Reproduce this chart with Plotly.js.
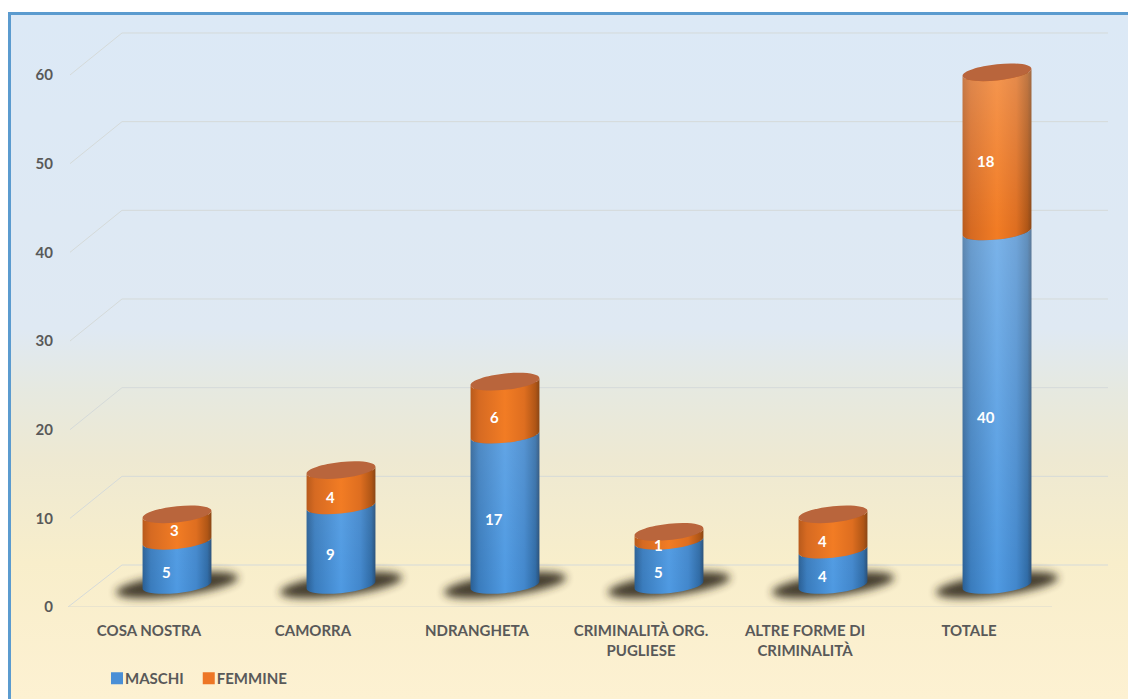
<!DOCTYPE html>
<html>
<head>
<meta charset="utf-8">
<script src="https://cdn.plot.ly/plotly-3.0.1.min.js"></script>
<style>
html,body{margin:0;padding:0;background:#fff;width:1128px;height:699px;overflow:hidden}
#frame{position:absolute;left:8px;top:12px;width:1120px;height:687px;box-sizing:border-box;border-left:3px solid #5b9bcf;border-top:3px solid #5b9bcf;
background:linear-gradient(to bottom,#dce9f6 0%,#dfe9f3 46%,#e6e9e0 55%,#eee9d2 65%,#f8eecb 80%,#fdf1d2 100%)}
#chart{position:absolute;left:0;top:0;width:1128px;height:699px}
</style>
</head>
<body>
<svg width="0" height="0" style="position:absolute">
<defs>
<linearGradient id="gBlue" x1="0" x2="1" y1="0" y2="0">
<stop offset="0" stop-color="#2a5f94"/><stop offset="0.12" stop-color="#3a7cbd"/><stop offset="0.5" stop-color="#4f9ae2"/><stop offset="0.78" stop-color="#4287cc"/><stop offset="0.94" stop-color="#2f6ba6"/><stop offset="1" stop-color="#284f78"/>
</linearGradient>
<linearGradient id="gOrange" x1="0" x2="1" y1="0" y2="0">
<stop offset="0" stop-color="#b85a1c"/><stop offset="0.12" stop-color="#d66a22"/><stop offset="0.5" stop-color="#f27c24"/><stop offset="0.78" stop-color="#de6e20"/><stop offset="0.94" stop-color="#b05616"/><stop offset="1" stop-color="#8a4716"/>
</linearGradient>
<linearGradient id="gLightBlue" gradientUnits="userSpaceOnUse" x1="0" x2="0" y1="230" y2="590">
<stop offset="0" stop-color="#ffffff" stop-opacity="0.25"/><stop offset="1" stop-color="#ffffff" stop-opacity="0"/>
</linearGradient>
<linearGradient id="gLightOrange" gradientUnits="userSpaceOnUse" x1="0" x2="0" y1="70" y2="230">
<stop offset="0" stop-color="#ffffff" stop-opacity="0.2"/><stop offset="1" stop-color="#ffffff" stop-opacity="0"/>
</linearGradient>
<filter id="fBlur" x="-30%" y="-60%" width="160%" height="220%"><feGaussianBlur stdDeviation="4.2"/></filter>
</defs>
</svg>
<div id="frame"></div>
<div id="chart"></div>
<script>
const categories = ["COSA NOSTRA","CAMORRA","NDRANGHETA","CRIMINALITÀ ORG.<br>PUGLIESE","ALTRE FORME DI<br>CRIMINALITÀ","TOTALE"];
const maschi = [5,9,17,5,4,40];
const femmine = [3,4,6,1,4,18];
const yTicks = [0,10,20,30,40,50,60];
const idx = categories.map((_,i)=>i);

const W=1128,H=699,mL=68,mR=20,mT=20,mB=92,plotW=W-mL-mR,plotH=H-mT-mB;
const catPx=164, unitFront=8.867, unitBar=8.84;
const yRange=[0,plotH/unitFront];
const xRange=[-0.5+1/catPx,-0.5+1/catPx+plotW/catPx];
const barCentre0=177, baseOffset=22;
const x2Range=[-(barCentre0-mL)/catPx,(plotW-(barCentre0-mL))/catPx];
const y2Range=[-baseOffset/unitBar,(plotH-baseOffset)/unitBar];
const depth=42/unitFront;
const px=p=>(p-mL)/plotW;

function ell(a,b,s){
  const P=(cx,cy,t)=>[cx+a*Math.cos(t),cy+b*Math.sin(t)+s*Math.cos(t)];
  const D=t=>[-a*Math.sin(t),b*Math.cos(t)-s*Math.sin(t)];
  return {
    P,
    arc(cx,cy,t0,t1,n){
      n=n||2;const dt=(t1-t0)/n,k=4/3*Math.tan(dt/4);let out='';
      for(let i=0;i<n;i++){
        const u=t0+i*dt,v=u+dt,p0=P(cx,cy,u),p1=P(cx,cy,v),d0=D(u),d1=D(v);
        out+=` C ${p0[0]+k*d0[0]} ${p0[1]+k*d0[1]} ${p1[0]-k*d1[0]} ${p1[1]-k*d1[1]} ${p1[0]} ${p1[1]}`;
      }
      return out;
    }
  };
}
const cyl=ell(0.21,0.92,0.4), shd=ell(0.372,1.25,0.85);
const PI=Math.PI;
function sidePath(i,y0,y1){
  const s=cyl.P(i,y0,PI), r=cyl.P(i,y1,0);
  return `M ${s[0]} ${s[1]}`+cyl.arc(i,y0,PI,2*PI)+` L ${r[0]} ${r[1]}`+cyl.arc(i,y1,2*PI,PI)+' Z';
}
function capPath(i,y){
  const s=cyl.P(i,y,0);
  return `M ${s[0]} ${s[1]}`+cyl.arc(i,y,0,2*PI,4)+' Z';
}
function shadowPath(i){
  const s=shd.P(i,0,0);
  return `M ${s[0]} ${s[1]}`+shd.arc(i,0,0,2*PI,4)+' Z';
}

const shapes=[];
const gridCol='#d5dad9';
yTicks.forEach(v=>{
  shapes.push({type:'line',layer:'below',xref:'paper',yref:'y',x0:px(v===0?68:70),x1:px(122),y0:v,y1:v+depth,line:{color:gridCol,width:1}});
  shapes.push({type:'line',layer:'below',xref:'paper',yref:'y',x0:px(122),x1:px(1108),y0:v+depth,y1:v+depth,line:{color:gridCol,width:1}});
});
shapes.push({type:'line',layer:'below',xref:'paper',yref:'y',x0:px(68),x1:px(1052),y0:0,y1:0,line:{color:'#d9d9d0',width:1.2}});
idx.forEach(i=>{
  shapes.push({name:'shadow',type:'path',layer:'below',xref:'x2',yref:'y2',path:shadowPath(i),fillcolor:'#33291a',opacity:0.9,line:{width:0}});
});
idx.forEach(i=>{
  const m=maschi[i],t=m+femmine[i];
  shapes.push({name:'blue',type:'path',layer:'above',xref:'x2',yref:'y2',path:sidePath(i,0,m),fillcolor:'#3f86cc',line:{width:0}});
  shapes.push({name:'lightBlue',type:'path',layer:'above',xref:'x2',yref:'y2',path:sidePath(i,0,m),fillcolor:'#3f86cc',line:{width:0}});
  shapes.push({name:'orange',type:'path',layer:'above',xref:'x2',yref:'y2',path:sidePath(i,m,t),fillcolor:'#f47f28',line:{width:0}});
  shapes.push({name:'lightOrange',type:'path',layer:'above',xref:'x2',yref:'y2',path:sidePath(i,m,t),fillcolor:'#f47f28',line:{width:0}});
  shapes.push({name:'cap',type:'path',layer:'above',xref:'x2',yref:'y2',path:capPath(i,t),fillcolor:'#b9653c',line:{width:0}});
});

const labelFont={family:'Lato, sans-serif',size:15,color:'#ffffff',weight:700};
const annotations=[];
const lab=(i,mid,val,xs,ys)=>annotations.push({xref:'x2',yref:'y2',x:i,y:mid,text:'<b>'+val+'</b>',showarrow:false,font:labelFont,xshift:xs,yshift:ys});
idx.forEach(i=>{
  lab(i,maschi[i]/2,maschi[i],-11,-9);
  const first=i===0;
  lab(i,maschi[i]+femmine[i]/2,femmine[i],first?-3:-11,first?-2:-9);
});

const traces=[
 {type:'scatter',x:[0],y:[0],xaxis:'x',yaxis:'y',mode:'none',showlegend:false,hoverinfo:'skip'},
 {type:'bar',name:'MASCHI',x:idx,y:maschi,xaxis:'x2',yaxis:'y2',width:0.38,marker:{color:'#4a8fd6',line:{width:0}}},
 {type:'bar',name:'FEMMINE',x:idx,y:femmine,xaxis:'x2',yaxis:'y2',width:0.38,marker:{color:'#ed7626',line:{width:0}}}
];
const tickFont={family:'Lato, sans-serif',size:15,color:'#595959',weight:700};
const layout={
 width:W,height:H,margin:{l:mL,r:mR,t:mT,b:mB,pad:0},
 paper_bgcolor:'rgba(0,0,0,0)',plot_bgcolor:'rgba(0,0,0,0)',
 barmode:'stack',showlegend:true,
 font:{family:'Lato, sans-serif'},
 legend:{orientation:'h',xref:'container',yref:'container',x:97/W,y:(H-662)/H,xanchor:'left',yanchor:'top',font:{family:'Lato, sans-serif',size:15,color:'#595959',weight:700},traceorder:'normal',bgcolor:'rgba(0,0,0,0)',itemclick:false},
 xaxis:{type:'linear',range:xRange,tickmode:'array',tickvals:idx,ticktext:categories,tickangle:0,showgrid:false,zeroline:false,showline:false,ticks:'',tickfont:tickFont,ticklabelstandoff:13,fixedrange:true},
 yaxis:{type:'linear',range:yRange,tickmode:'array',tickvals:yTicks,showgrid:false,zeroline:false,showline:false,ticks:'',tickfont:tickFont,ticklabelstandoff:14,fixedrange:true},
 xaxis2:{type:'linear',overlaying:'x',range:x2Range,visible:false,anchor:'y2',fixedrange:true},
 yaxis2:{type:'linear',overlaying:'y',range:y2Range,visible:false,anchor:'x2',fixedrange:true},
 shapes,annotations
};
Plotly.newPlot('chart',traces,layout,{displayModeBar:false,staticPlot:true}).then(gd=>{
  gd.querySelectorAll('.shapelayer path').forEach(p=>{
    const sh=layout.shapes[+p.getAttribute('data-index')];
    if(!sh||!sh.name)return;
    if(sh.name==='blue')p.style.fill='url(#gBlue)';
    if(sh.name==='orange')p.style.fill='url(#gOrange)';
    if(sh.name==='lightBlue')p.style.fill='url(#gLightBlue)';
    if(sh.name==='lightOrange')p.style.fill='url(#gLightOrange)';
    if(sh.name==='shadow')p.style.filter='url(#fBlur)';
  });
  const bars=gd.querySelectorAll('.barlayer .trace');
  if(bars[0])bars[0].querySelectorAll('.point path').forEach(p=>p.style.fill='url(#gBlue)');
  if(bars[1])bars[1].querySelectorAll('.point path').forEach(p=>p.style.fill='url(#gOrange)');
  gd.querySelectorAll('.legend .traces').forEach((t,i)=>{
    const tx=t.querySelector('.legendtext');
    if(tx)tx.setAttribute('x',+tx.getAttribute('x')-12);
    if(i===1){
      const tr=t.getAttribute('transform').match(/translate\(([-\d.]+)[ ,]+([-\d.]+)\)/);
      if(tr)t.setAttribute('transform',`translate(${+tr[1]-12},${tr[2]})`);
    }
  });
});
</script>
</body>
</html>
